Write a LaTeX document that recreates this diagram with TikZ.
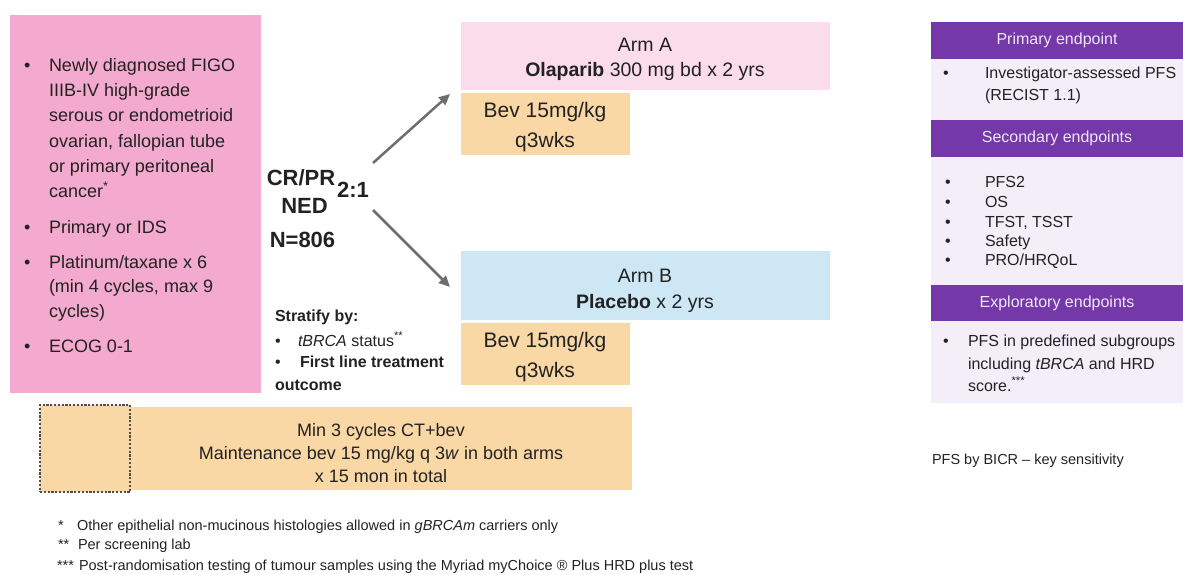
\documentclass[tikz,border=0pt]{standalone}
\usepackage{fontspec}
\setmainfont{Liberation Sans}
\usetikzlibrary{arrows.meta}
\definecolor{ink}{HTML}{222222}
\definecolor{pinkbox}{HTML}{F4AACF}
\definecolor{armA}{HTML}{FBDCEB}
\definecolor{armB}{HTML}{CDE8F4}
\definecolor{peach}{HTML}{FAD8A6}
\definecolor{purp}{HTML}{7538A8}
\definecolor{lav}{HTML}{F3EEF8}
\definecolor{headtxt}{HTML}{EFE6F7}
\definecolor{arrowgrey}{HTML}{6E6E6E}
\begin{document}
\begin{tikzpicture}[x=1pt,y=1pt,
  boxn/.style={inner sep=0pt,outer sep=0pt,draw=none},
  tx/.style={inner sep=0pt,outer sep=0pt,text=ink,anchor=base west},
  txc/.style={inner sep=0pt,outer sep=0pt,text=ink,anchor=base},
  fpink/.style={font=\fontsize{18}{22}\selectfont},
  fcr/.style={font=\fontsize{22}{26}\selectfont\bfseries},
  fstr/.style={font=\fontsize{16}{19}\selectfont},
  farm/.style={font=\fontsize{19.5}{23}\selectfont},
  fbev/.style={font=\fontsize{21}{25}\selectfont},
  fbot/.style={font=\fontsize{18}{22}\selectfont},
  fpan/.style={font=\fontsize{16}{19}\selectfont},
  ffoot/.style={font=\fontsize{14.5}{17}\selectfont},
  arr/.style={draw=arrowgrey,line width=2.5pt,-{Triangle[length=11pt,width=10pt]}}
]
\useasboundingbox (0,0) rectangle (1183,-575);

% left pink eligibility box
\node[boxn,fill=pinkbox,minimum width=251pt,minimum height=378pt] (elig) at (135.5,-204) {};
\foreach \y [count=\i] in {72,233,268,352}
  \node[tx,fpink] (pb\i) at (24,-\y) {•};
\foreach \t/\y [count=\i] in {{Newly diagnosed FIGO}/72,{IIIB-IV high-grade}/97,{serous or endometrioid}/122,{ovarian, fallopian tube}/147,{or primary peritoneal}/172,{cancer\textsuperscript{*}}/197,{Primary or IDS}/233,{Platinum/taxane x 6}/268,{(min 4 cycles, max 9}/292.5,{cycles)}/317,{ECOG 0-1}/352}
  \node[tx,fpink] (pl\i) at (49,-\y) {\t};

% randomisation labels
\node[txc,fcr] (crpr) at (301,-185) {CR/PR};
\node[txc,fcr] (ned) at (304.5,-213) {NED};
\node[txc,fcr] (n806) at (302.5,-247) {N=806};
\node[txc,fcr] (ratio) at (353,-197) {2:1};

% stratification
\node[tx,fstr,font=\fontsize{16}{19}\selectfont\bfseries] (strat) at (275,-321) {Stratify by:};
\node[tx,fstr] (sb1) at (275,-346) {•};
\node[tx,fstr] (s1) at (298,-346) {\textit{tBRCA} status\textsuperscript{**}};
\node[tx,fstr] (sb2) at (275,-367) {•};
\node[tx,fstr,font=\fontsize{16}{19}\selectfont\bfseries] (s2) at (300,-367) {First line treatment};
\node[tx,fstr,font=\fontsize{16}{19}\selectfont\bfseries] (s3) at (275,-390) {outcome};

% arms
\node[boxn,fill=armA,minimum width=369pt,minimum height=68pt] (armA) at (645.5,-56) {};
\node[txc,farm] (armAt1) at (645,-52) {Arm A};
\node[txc,farm] (armAt2) at (645,-77) {\textbf{Olaparib} 300 mg bd x 2 yrs};
\node[boxn,fill=peach,minimum width=169pt,minimum height=62pt] (bevA) at (545.5,-124) {};
\node[txc,fbev] (bevAt1) at (545,-118) {Bev 15mg/kg};
\node[txc,fbev] (bevAt2) at (545,-147) {q3wks};

\node[boxn,fill=armB,minimum width=369pt,minimum height=69pt] (armB) at (645.5,-285.5) {};
\node[txc,farm] (armBt1) at (645,-282) {Arm B};
\node[txc,farm] (armBt2) at (645,-308) {\textbf{Placebo} x 2 yrs};
\node[boxn,fill=peach,minimum width=169pt,minimum height=62pt] (bevB) at (545.5,-354) {};
\node[txc,fbev] (bevBt1) at (545,-347) {Bev 15mg/kg};
\node[txc,fbev] (bevBt2) at (545,-377) {q3wks};

% arrows
\coordinate (aUs) at (373,-163);
\coordinate (aUe) at (450,-94);
\coordinate (aLs) at (373,-210);
\coordinate (aLe) at (450,-287);
\draw[arr] (aUs) -- (aUe);
\draw[arr] (aLs) -- (aLe);

% bottom chemo box
\node[boxn,fill=peach,minimum width=502pt,minimum height=83pt] (chemo) at (381,-448.5) {};
\node[boxn,fill=peach,draw=ink!80,dash pattern=on 2.2pt off 1.6pt,line width=1.1pt,minimum width=90pt,minimum height=87pt] (dash) at (85,-448.5) {};
\node[txc,fbot] (ch1) at (381,-436) {Min 3 cycles CT+bev};
\node[txc,fbot] (ch2) at (381,-459) {Maintenance bev 15 mg/kg q 3\textit{w} in both arms};
\node[txc,fbot] (ch3) at (381,-482) {x 15 mon in total};

% footnotes
\node[tx,ffoot] (f1a) at (58,-530) {*};
\node[tx,ffoot] (f1b) at (77,-530) {Other epithelial non-mucinous histologies allowed in \textit{gBRCAm} carriers only};
\node[tx,ffoot] (f2a) at (58,-549) {**};
\node[tx,ffoot] (f2b) at (78,-549) {Per screening lab};
\node[tx,ffoot] (f3a) at (57,-570) {***};
\node[tx,ffoot] (f3b) at (79,-570) {Post-randomisation testing of tumour samples using the Myriad myChoice ® Plus HRD plus test};

% endpoints panel
\node[boxn,fill=purp,minimum width=252pt,minimum height=37pt,text=headtxt,fpan] (h1) at (1057,-40.5) {Primary endpoint};
\node[boxn,fill=lav,minimum width=252pt,minimum height=61pt] (b1) at (1057,-89.5) {};
\node[boxn,fill=purp,minimum width=252pt,minimum height=37pt,text=headtxt,fpan] (h2) at (1057,-138.5) {Secondary endpoints};
\node[boxn,fill=lav,minimum width=252pt,minimum height=128pt] (b2) at (1057,-221) {};
\node[boxn,fill=purp,minimum width=252pt,minimum height=36pt,text=headtxt,fpan] (h3) at (1057,-303) {Exploratory endpoints};
\node[boxn,fill=lav,minimum width=252pt,minimum height=82pt] (b3) at (1057,-362) {};

\node[tx,fpan] (e1b) at (943,-79) {•};
\node[tx,fpan] (e1t1) at (985,-79) {Investigator-assessed PFS};
\node[tx,fpan] (e1t2) at (985,-101) {(RECIST 1.1)};

\foreach \t/\y [count=\i] in {{PFS2}/187,{OS}/207,{TFST, TSST}/227,{Safety}/246,{PRO/HRQoL}/265}{
  \node[tx,fpan] (e2b\i) at (945,-\y) {•};
  \node[tx,fpan] (e2t\i) at (985,-\y) {\t};
}

\node[tx,fpan] (e3b) at (943,-346) {•};
\node[tx,fpan] (e3t1) at (968,-346) {PFS in predefined subgroups};
\node[tx,fpan] (e3t2) at (968,-369) {including \textit{tBRCA} and HRD};
\node[tx,fpan] (e3t3) at (968,-391) {score.\textsuperscript{***}};

\node[tx,font=\fontsize{14.5}{17}\selectfont] (bicr) at (932,-464) {PFS by BICR – key sensitivity};
\end{tikzpicture}
\end{document}
